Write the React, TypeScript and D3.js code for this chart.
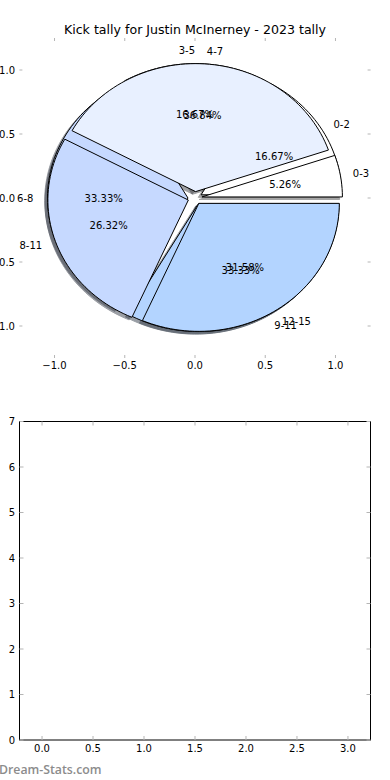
import React from 'react';
import * as d3 from 'd3';

const pie1Labels = ['0-2', '3-5', '6-8', '9-11'];
const pie1Values = [1, 1, 2, 2];
const pie2Labels = ['0-3', '4-7', '8-11', '12-15'];
const pie2Values = [1, 7, 5, 6];
const sliceColors = ['#ffffff', '#e8f0ff', '#c6d9ff', '#b3d4ff'];
const explode = [0.05, 0.05, 0.05, 0.05];
const pieTicks = [-1.0, -0.5, 0.0, 0.5, 1.0];
const lowerXTicks = [0, 0.5, 1, 1.5, 2, 2.5, 3];
const lowerYTicks = [0, 1, 2, 3, 4, 5, 6, 7];

const W = 390;
const H = 780;
const FONT = 'DejaVu Sans, sans-serif';
const TICK = '#b5b5b5';

// top (pie) axes
const px = d3.scaleLinear().domain([-1.25, 1.25]).range([19.4, 370.6]);
const py = d3.scaleLinear().domain([-1.25, 1.25]).range([358, 38]);

// bottom (empty) axes
const bx = d3.scaleLinear().domain([-0.221, 3.221]).range([19.5, 370.5]);
const by = d3.scaleLinear().domain([0, 7]).range([740, 421.5]);

const fmtTick = (v: number) => d3.format('.1f')(v).replace('-', '\u2212');

type Wedge = {
  label: string;
  pct: string;
  color: string;
  cx: number;
  cy: number;
  t1: number;
  t2: number;
  mid: number;
};

function buildPie(labels: string[], values: number[]): Wedge[] {
  const total = d3.sum(values);
  let acc = 0;
  return values.map((v, i) => {
    const f1 = acc / total;
    acc += v;
    const f2 = acc / total;
    const t1 = 2 * Math.PI * f1;
    const t2 = 2 * Math.PI * f2;
    const mid = (t1 + t2) / 2;
    return {
      label: labels[i],
      pct: d3.format('.2f')((100 * v) / total) + '%',
      color: sliceColors[i % sliceColors.length],
      cx: explode[i] * Math.cos(mid),
      cy: explode[i] * Math.sin(mid),
      t1,
      t2,
      mid,
    };
  });
}

const line = d3.line<[number, number]>().x((d) => px(d[0])).y((d) => py(d[1]));

function wedgePath(w: Wedge, ox = 0, oy = 0) {
  const pts: [number, number][] = [[w.cx + ox, w.cy + oy]];
  const n = Math.max(8, Math.ceil(((w.t2 - w.t1) * 180) / Math.PI / 2));
  for (let k = 0; k <= n; k++) {
    const t = w.t1 + ((w.t2 - w.t1) * k) / n;
    pts.push([w.cx + ox + Math.cos(t), w.cy + oy + Math.sin(t)]);
  }
  return line(pts) + 'Z';
}

function shadowColor(c: string) {
  const rgb = d3.rgb(c);
  return d3.rgb(rgb.r * 0.3, rgb.g * 0.3, rgb.b * 0.3).formatHex();
}

const pies = [buildPie(pie1Labels, pie1Values), buildPie(pie2Labels, pie2Values)];
const allWedges = pies.flat();

export default function App() {
  return (
    <div style={{ position: 'absolute', left: 0, top: 0 }}>
      <svg width={W} height={H} style={{ display: 'block', background: '#fff' }} fontFamily={FONT}>
        {/* title */}
        <text x={195} y={33.5} textAnchor="middle" fontSize={12.6} fill="#000">
          Kick tally for Justin McInerney - 2023 tally
        </text>

        {/* pie axes ticks (frame off) */}
        {pieTicks.map((t) => (
          <g key={'px' + t}>
            <line x1={px(t)} x2={px(t)} y1={38} y2={41} stroke={TICK} />
            <line x1={px(t)} x2={px(t)} y1={358} y2={355} stroke={TICK} />
            <text x={px(t)} y={369} textAnchor="middle" fontSize={10}>
              {fmtTick(t)}
            </text>
          </g>
        ))}
        {pieTicks.map((t) => (
          <g key={'py' + t}>
            <line x1={19.4} x2={22.4} y1={py(t)} y2={py(t)} stroke={TICK} />
            <line x1={370.6} x2={367.6} y1={py(t)} y2={py(t)} stroke={TICK} />
            <text x={15} y={py(t) + 3.5} textAnchor="end" fontSize={10}>
              {fmtTick(t)}
            </text>
          </g>
        ))}

        {/* shadows of both pies */}
        {allWedges.map((w, i) => (
          <path
            key={'s' + i}
            d={wedgePath(w, -0.02, -0.02)}
            fill={shadowColor(w.color)}
            stroke={shadowColor(w.color)}
            opacity={0.5}
          />
        ))}

        {/* wedges, first pie then second on top */}
        {allWedges.map((w, i) => (
          <path key={'w' + i} d={wedgePath(w)} fill={w.color} stroke="#000" strokeWidth={1} strokeLinejoin="miter" />
        ))}

        {/* labels & percentages */}
        {allWedges.map((w, i) => {
          const lx = w.cx + 1.1 * Math.cos(w.mid);
          const ly = w.cy + 1.1 * Math.sin(w.mid);
          const tx = w.cx + 0.6 * Math.cos(w.mid);
          const ty = w.cy + 0.6 * Math.sin(w.mid);
          const left = lx > 1e-9;
          return (
            <g key={'t' + i} fontSize={10}>
              <text x={px(lx) - (left ? 1.5 : 0)} y={py(ly) + 3.5} textAnchor={left ? 'start' : 'end'}>
                {w.label}
              </text>
              <text x={px(tx)} y={py(ty) + 3.5} textAnchor="middle">
                {w.pct}
              </text>
            </g>
          );
        })}

        {/* bottom empty axes */}
        <rect x={19.5} y={421.5} width={351} height={318.5} fill="none" stroke="#000" strokeWidth={1} />
        {lowerXTicks.map((t) => (
          <g key={'bx' + t}>
            <line x1={bx(t)} x2={bx(t)} y1={740} y2={736} stroke={TICK} />
            <line x1={bx(t)} x2={bx(t)} y1={421.5} y2={425.5} stroke={TICK} />
            <text x={bx(t)} y={752} textAnchor="middle" fontSize={10}>
              {d3.format('.1f')(t)}
            </text>
          </g>
        ))}
        {lowerYTicks.map((t) => (
          <g key={'by' + t}>
            <line x1={19.5} x2={23.5} y1={by(t)} y2={by(t)} stroke={TICK} />
            <line x1={370.5} x2={366.5} y1={by(t)} y2={by(t)} stroke={TICK} />
            <text x={15} y={by(t) + 3.5} textAnchor="end" fontSize={10}>
              {String(t)}
            </text>
          </g>
        ))}

        {/* watermark */}
        <text x={-1} y={774} fontSize={12.3} fontWeight={600} fill="#8c8c8c" fontFamily="Open Sans, sans-serif">
          Dream-Stats.com
        </text>
      </svg>
    </div>
  );
}
